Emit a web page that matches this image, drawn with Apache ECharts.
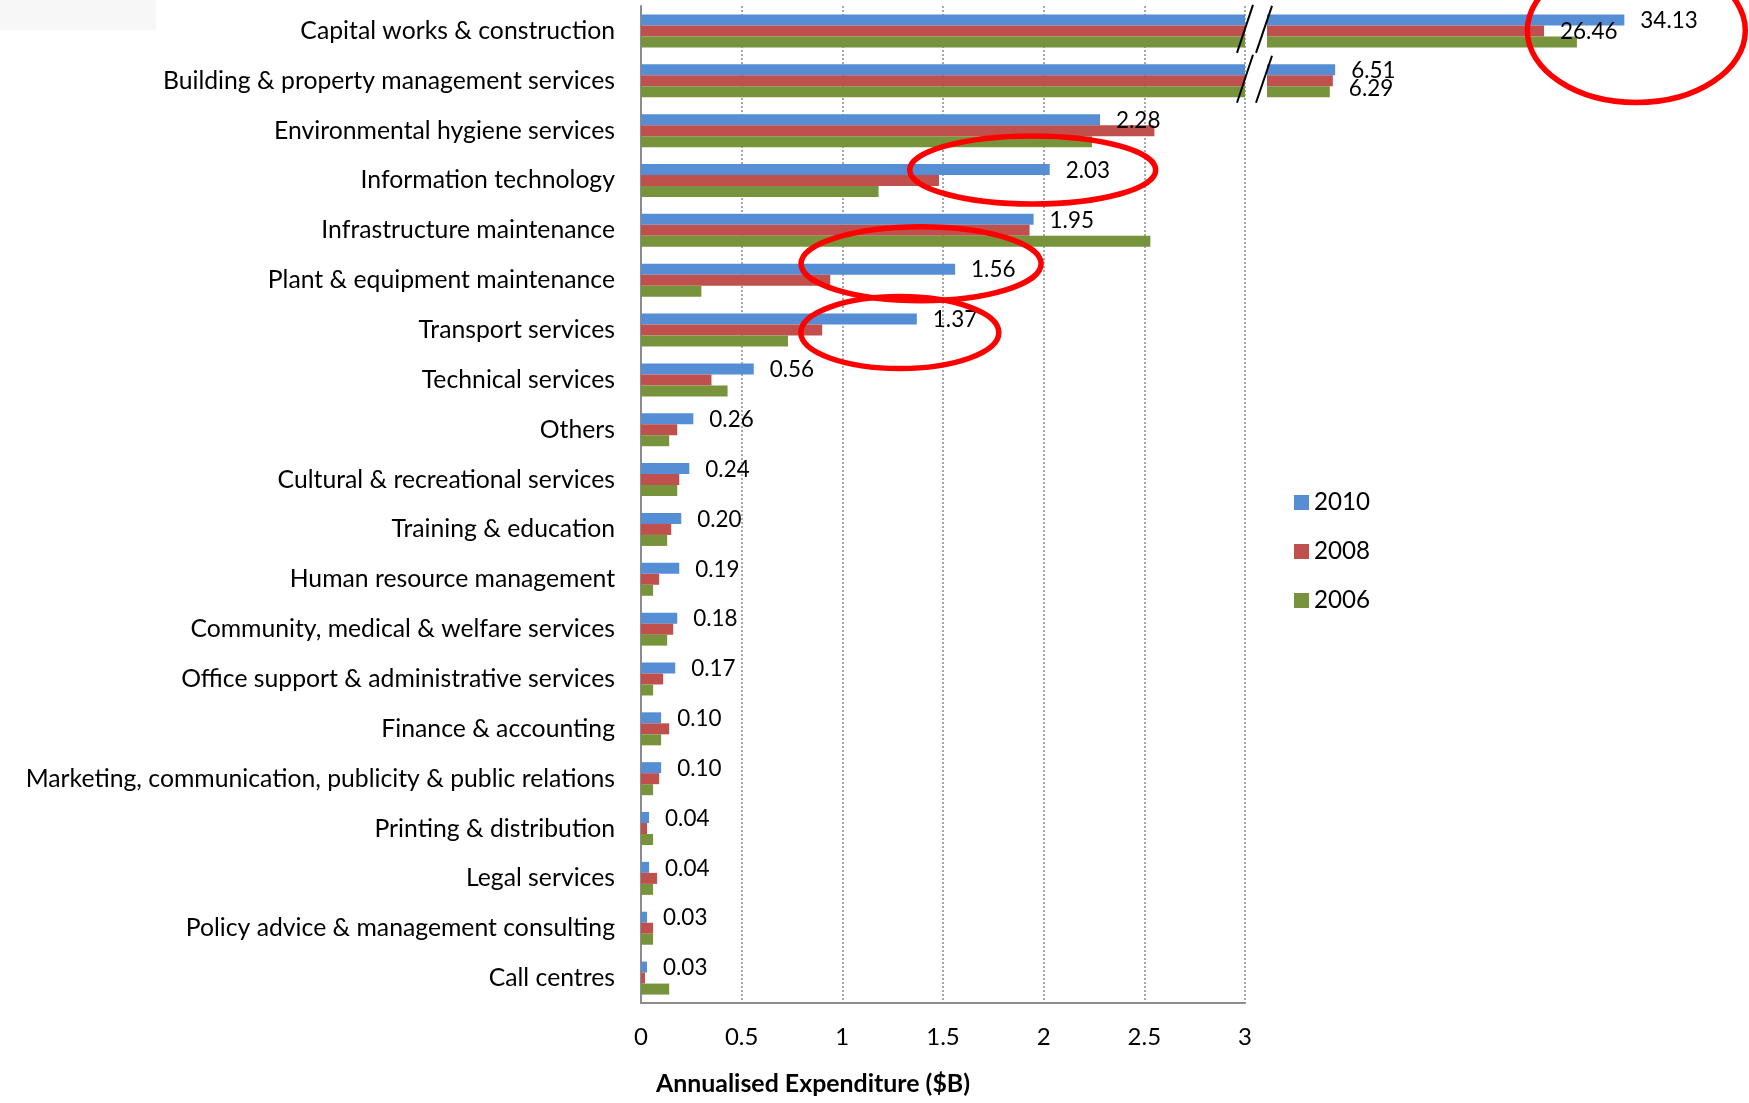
<!DOCTYPE html>
<html><head><meta charset="utf-8">
<script src="https://cdn.jsdelivr.net/npm/echarts@6/dist/echarts.min.js"></script>
<style>html,body{margin:0;padding:0;background:#fff}#c{width:1749px;height:1103px}</style>
</head><body><div id="c"></div>
<script>
const categories = [
  'Capital works & construction',
  'Building & property management services',
  'Environmental hygiene services',
  'Information technology',
  'Infrastructure maintenance',
  'Plant & equipment maintenance',
  'Transport services',
  'Technical services',
  'Others',
  'Cultural & recreational services',
  'Training & education',
  'Human resource management',
  'Community, medical & welfare services',
  'Office support & administrative services',
  'Finance & accounting',
  'Marketing, communication, publicity & public relations',
  'Printing & distribution',
  'Legal services',
  'Policy advice & management consulting',
  'Call centres'
];
const years = ['2010', '2008', '2006'];
const v2010 = [34.13, 6.51, 2.28, 2.03, 1.95, 1.56, 1.37, 0.56, 0.26, 0.24, 0.20, 0.19, 0.18, 0.17, 0.10, 0.10, 0.04, 0.04, 0.03, 0.03];
const v2008 = [26.46, 6.29, 2.55, 1.48, 1.93, 0.94, 0.90, 0.35, 0.18, 0.19, 0.15, 0.09, 0.16, 0.11, 0.14, 0.09, 0.03, 0.08, 0.06, 0.02];
const v2006 = [29.6, 6.0, 2.24, 1.18, 2.53, 0.30, 0.73, 0.43, 0.14, 0.18, 0.13, 0.06, 0.13, 0.06, 0.10, 0.06, 0.06, 0.06, 0.06, 0.14];
const xTicks = [0, 0.5, 1, 1.5, 2, 2.5, 3];
const breakAt = 3;
const rightMax = 40;
const axisTitle = 'Annualised Expenditure ($B)';

const colors = ['#558ED5', '#C0504D', '#77933C'];
const FONT = 'Lato';
const mctx = document.createElement('canvas').getContext('2d');
function fitSize(text, target, weight) {
  mctx.font = (weight || 'normal') + ' 100px ' + FONT;
  return +(100 * target / mctx.measureText(text).width).toFixed(1);
}
const catFont = (2 * fitSize(categories[15], 594) + fitSize(categories[0], 311)) / 3;
const valFont = 1.08 * (fitSize('34.13', 52) + fitSize('0.56', 42)) / 2;
const tickFont = fitSize('2.5', 33.5);
const titleFont = fitSize(axisTitle, 314, 'bold');
const legFont = 1.08 * fitSize('2010', 52);

const allVals = [v2010, v2008, v2006];
const labelOn = [true, false, false];          // 2010 labelled in lower segment
const labelOnRight = [true, true, false];       // 2010 & 2008 labelled in broken segment
const BAR = 11;

const series = [];
allVals.forEach((vals, s) => {
  series.push({
    name: years[s], type: 'bar', xAxisIndex: 0, yAxisIndex: 0,
    barWidth: BAR, barGap: '0%', itemStyle: { color: colors[s] },
    data: vals.map(v => ({
      value: Math.min(v, breakAt),
      label: { show: labelOn[s] && v <= breakAt }
    })),
    label: { position: 'right', distance: 16, color: '#000', fontFamily: FONT, fontSize: valFont,
      offset: [0, 1], formatter: p => vals[p.dataIndex].toFixed(2) }
  });
});
allVals.forEach((vals, s) => {
  series.push({
    name: years[s], type: 'bar', xAxisIndex: 1, yAxisIndex: 1,
    barWidth: BAR, barGap: '0%', itemStyle: { color: colors[s] },
    data: vals.map((v, i) => v > breakAt ? ({
      value: v,
      label: { show: labelOnRight[s], offset: (s === 1 && i === 1) ? [0, 8] : [0, 1] }
    }) : '-'),
    label: { position: 'right', distance: 16, color: '#000', fontFamily: FONT, fontSize: valFont,
      formatter: p => vals[p.dataIndex].toFixed(2) }
  });
});

const chart = echarts.init(document.getElementById('c'), null, { renderer: 'canvas' });
const gridTop = 6, gridH = 997;
chart.setOption({
  animation: false,
  backgroundColor: '#fff',
  textStyle: { fontFamily: FONT },
  grid: [
    { left: 641, top: gridTop, width: 604, height: gridH },
    { left: 1267, top: gridTop, width: 10.47 * rightMax, height: gridH }
  ],
  legend: {
    orient: 'vertical', left: 1289, top: 485, itemWidth: 15, itemHeight: 15, itemGap: 24,
    icon: 'rect', data: years,
    textStyle: { fontFamily: FONT, fontSize: legFont, color: '#000', lineHeight: 25 }
  },
  xAxis: [
    { type: 'value', gridIndex: 0, min: xTicks[0], max: xTicks[xTicks.length - 1], interval: xTicks[1] - xTicks[0],
      axisLine: { show: true, lineStyle: { color: '#8c8c8c', width: 2 } },
      axisTick: { show: false },
      axisLabel: { color: '#000', fontFamily: FONT, fontSize: tickFont, margin: 22 },
      splitLine: { show: true, lineStyle: { color: '#8c8c8c', type: [2, 2], width: 1.5 } } },
    { type: 'value', gridIndex: 1, min: 0, max: rightMax, show: false, splitLine: { show: false } }
  ],
  yAxis: [
    { type: 'category', gridIndex: 0, inverse: true, data: categories,
      axisLine: { show: true, lineStyle: { color: '#8c8c8c', width: 2 } },
      axisTick: { show: false },
      axisLabel: { color: '#000', fontFamily: FONT, fontSize: catFont, margin: 26 } },
    { type: 'category', gridIndex: 1, inverse: true, data: categories, show: false }
  ],
  series: series
});

// decorations computed from the axes
const xb = chart.convertToPixel({ xAxisIndex: 0 }, breakAt);
const xr = chart.convertToPixel({ xAxisIndex: 1 }, 0);
const graphics = [
  { type: 'rect', shape: { x: 0, y: 0, width: 156, height: 30 }, style: { fill: '#f7f7f7' }, z: 0 },
  { type: 'text', style: { text: axisTitle, x: 813, y: 1084, textAlign: 'center', textVerticalAlign: 'middle',
      font: 'bold ' + titleFont + 'px ' + FONT, fill: '#000' } }
];
categories.forEach((c, i) => {
  if (Math.max(v2010[i], v2008[i], v2006[i]) > breakAt) {
    const cy = chart.convertToPixel({ yAxisIndex: 0 }, c);
    graphics.push({ type: 'line', shape: { x1: xb - 8, y1: cy + 22, x2: xb + 8, y2: cy - 26 },
      style: { stroke: '#000', lineWidth: 2 }, z: 50 });
    graphics.push({ type: 'line', shape: { x1: xr - 11, y1: cy + 22, x2: xr + 5, y2: cy - 25 },
      style: { stroke: '#000', lineWidth: 2 }, z: 50 });
  }
});
// hand-drawn highlight ovals, anchored to the 2010 bar ends
const ovals = [
  { cat: 0, dx: 12, dy: -0.5, rx: 109, ry: 72 },
  { cat: 3, dx: -17, dy: -10.5, rx: 123, ry: 34 },
  { cat: 5, dx: -34, dy: -16.5, rx: 120, ry: 37 },
  { cat: 6, dx: -17, dy: 2.5, rx: 99, ry: 36 }
];
ovals.forEach(o => {
  const v = v2010[o.cat];
  const px = v > breakAt ? chart.convertToPixel({ xAxisIndex: 1 }, v) : chart.convertToPixel({ xAxisIndex: 0 }, v);
  const cy = chart.convertToPixel({ yAxisIndex: 0 }, categories[o.cat]);
  graphics.push({ type: 'ellipse', shape: { cx: px + o.dx, cy: cy + o.dy, rx: o.rx, ry: o.ry },
    style: { fill: null, stroke: '#f00', lineWidth: 5.5 }, z: 100 });
});
chart.setOption({ graphic: graphics });
</script>
</body></html>
